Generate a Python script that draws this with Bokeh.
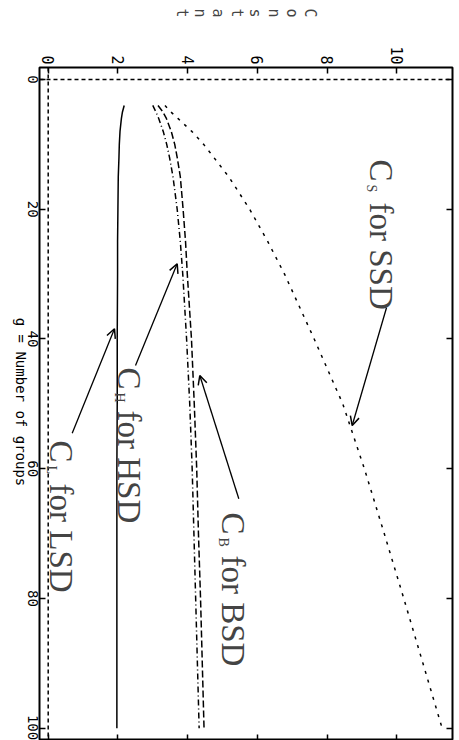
import math
from bokeh.plotting import figure
from bokeh.models import Range1d, LinearAxis, FixedTicker, Span, Label, Arrow, OpenHead
from bokeh.embed import file_html
from bokeh.resources import INLINE

# ---- data ----
groups = [4, 5, 6, 8, 10, 12, 15, 20, 25, 30, 40, 50, 60, 70, 80, 90, 100]
c_lsd = [2.18, 2.13, 2.10, 2.06, 2.04, 2.03, 2.01, 2.00, 1.99, 1.99, 1.98, 1.98, 1.97, 1.97, 1.97, 1.97, 1.97]
c_hsd = [3.00, 3.09, 3.17, 3.30, 3.40, 3.48, 3.58, 3.70, 3.79, 3.86, 3.97, 4.06, 4.13, 4.18, 4.23, 4.28, 4.33]
c_bsd = [3.15, 3.29, 3.39, 3.53, 3.63, 3.70, 3.79, 3.87, 3.94, 3.99, 4.11, 4.19, 4.26, 4.31, 4.37, 4.42, 4.47]
c_ssd = [3.35, 3.52, 3.72, 4.12, 4.46, 4.75, 5.18, 5.78, 6.30, 6.78, 7.63, 8.45, 9.07, 9.64, 10.20, 10.75, 11.30]
const_ticks = [0, 2, 4, 6, 8, 10]
group_ticks = [0, 20, 40, 60, 80, 100]
const_title = "Constant"
group_title = "g = Number of groups"
series_labels = [("L", "for LSD"), ("H", "for HSD"), ("B", "for BSD"), ("S", "for SSD")]

# ---- layout (chart drawn rotated: constant runs left->right, g runs top->bottom) ----
X0, XPX = 47.7, 34.86     # canvas px of constant 0, px per unit
Y0, YPX = 79.0, 6.487     # canvas px of g 0, px per unit
W, H = 459, 740
BL, BR, BT, BB = 39, 7, 67, 0

def d(sx, sy):
    return ((sx - X0) / XPX, (sy - Y0) / YPX)

x_lo = (BL - X0) / XPX
x_hi = (W - BR - X0) / XPX
y_top = (BT - Y0) / YPX
y_bot = (H - BB - Y0) / YPX

p = figure(width=W, height=H, output_backend="svg", toolbar_location=None,
           x_range=Range1d(x_lo, x_hi), y_range=Range1d(y_bot, y_top),
           x_axis_location="above", y_axis_location="left",
           min_border_left=BL, min_border_right=BR, min_border_top=BT, min_border_bottom=BB)
p.grid.visible = False
p.outline_line_color = "black"
p.outline_line_width = 2
p.background_fill_color = "white"
p.border_fill_color = "white"

MONO = "DejaVu Sans Mono"
MONO_ADV = 0.602  # advance width of the mono font, in em

def style_axis(ax, ticks, show_labels, standoff=3, size=15):
    ax.ticker = FixedTicker(ticks=ticks)
    ax.axis_line_color = None
    ax.major_tick_in = 6
    ax.major_tick_out = 0
    ax.major_tick_line_width = 1.5
    ax.major_tick_line_color = "black"
    ax.minor_tick_line_color = None
    ax.major_label_text_font = MONO
    if show_labels:
        ax.major_label_text_color = "black"
        ax.major_label_text_font_size = f"{size}px"
        ax.major_label_orientation = -math.pi / 2
        ax.major_label_standoff = standoff
    else:
        ax.major_label_text_color = None
        ax.major_label_text_font_size = "1px"
        ax.major_label_standoff = 0

ax_top = p.xaxis[0]
ax_left = p.yaxis[0]
style_axis(ax_top, const_ticks, True, 3, 15)
style_axis(ax_left, group_ticks, False)          # inward ticks only
ax_r = LinearAxis()
style_axis(ax_r, group_ticks, False)
p.add_layout(ax_r, "right")
ax_b = LinearAxis()
style_axis(ax_b, const_ticks, False)
p.add_layout(ax_b, "below")

def text_axis(labels_at, size, standoff):
    """A tick-less left axis that only writes rotated texts; a rotated text ends at
    its anchor, so each anchor sits half a text length past the wanted centre."""
    g_max = max(y_top, y_bot) - 0.05
    half = {}
    for centre, txt in labels_at:
        pos = round(min(centre + len(txt) * MONO_ADV * size / 2 / YPX, g_max), 3)
        half[pos] = txt
    ax = LinearAxis(ticker=FixedTicker(ticks=list(half.keys())), major_label_overrides=half)
    ax.axis_line_color = None
    ax.major_tick_line_color = None
    ax.minor_tick_line_color = None
    ax.major_tick_in = 0
    ax.major_tick_out = 0
    ax.major_label_standoff = standoff
    ax.major_label_text_font = MONO
    ax.major_label_text_font_size = f"{size}px"
    ax.major_label_text_color = "black"
    ax.major_label_orientation = -math.pi / 2
    return ax

p.add_layout(text_axis([(g, str(g)) for g in group_ticks], 14, 7), "left")
title_centre = (401.5 - Y0) / YPX
p.add_layout(text_axis([(title_centre, group_title)], 14, -1), "left")

# top title: stacked letters (rotated with the chart)
ax_top.axis_label = "\n".join(const_title)
ax_top.axis_label_text_font = MONO
ax_top.axis_label_text_font_size = "15px"
ax_top.axis_label_text_font_style = "normal"
ax_top.axis_label_text_line_height = 1.02
ax_top.axis_label_standoff = 26
if "axis_label_orientation" in ax_top.properties():
    ax_top.axis_label_orientation = -math.pi / 2

# zero reference lines
p.add_layout(Span(location=0, dimension="height", line_color="black", line_width=1.5, line_dash="4 3"))
p.add_layout(Span(location=0, dimension="width", line_color="black", line_width=1.5, line_dash="4 3"))

# curves
p.line(c_lsd, groups, line_color="black", line_width=1.5)
p.line(c_hsd, groups, line_color="black", line_width=1.5, line_dash="6 3 1 3")
p.line(c_bsd, groups, line_color="black", line_width=1.5, line_dash="7 3")
p.line(c_ssd, groups, line_color="black", line_width=1.5, line_dash="3 6")

# annotations: "C_x for XSD"
SERIF = "Liberation Serif"
label_pos = [(60, 440), (128, 367), (232, 512), (380, 159)]
for (sub, rest), (bx, by) in zip(series_labels, label_pos):
    x, y = d(bx, by)
    p.add_layout(Label(x=x, y=y, text="C", angle=-math.pi / 2, text_font=SERIF,
                       text_font_size="33px", text_align="left", text_baseline="alphabetic"))
    x, y = d(bx - 9, by + 25)
    p.add_layout(Label(x=x, y=y, text=sub, angle=-math.pi / 2, text_font=SERIF,
                       text_font_size="14px", text_align="left", text_baseline="alphabetic"))
    x, y = d(bx, by + 43)
    p.add_layout(Label(x=x, y=y, text=rest, angle=-math.pi / 2, text_font=SERIF,
                       text_font_size="33px", text_align="left", text_baseline="alphabetic"))

arrow_pos = [((71.7, 432.7), (114, 328.3)), ((135, 365), (176.7, 263.3)),
             ((238.3, 498.3), (199.3, 375)), ((386, 307.3), (351.7, 425))]
for (s, e) in arrow_pos:
    xs, ys = d(*s)
    xe, ye = d(*e)
    p.add_layout(Arrow(x_start=xs, y_start=ys, x_end=xe, y_end=ye, line_width=1.3,
                       end=OpenHead(size=9, line_width=1.5)))

open("out.html", "w").write(file_html(p, INLINE))
